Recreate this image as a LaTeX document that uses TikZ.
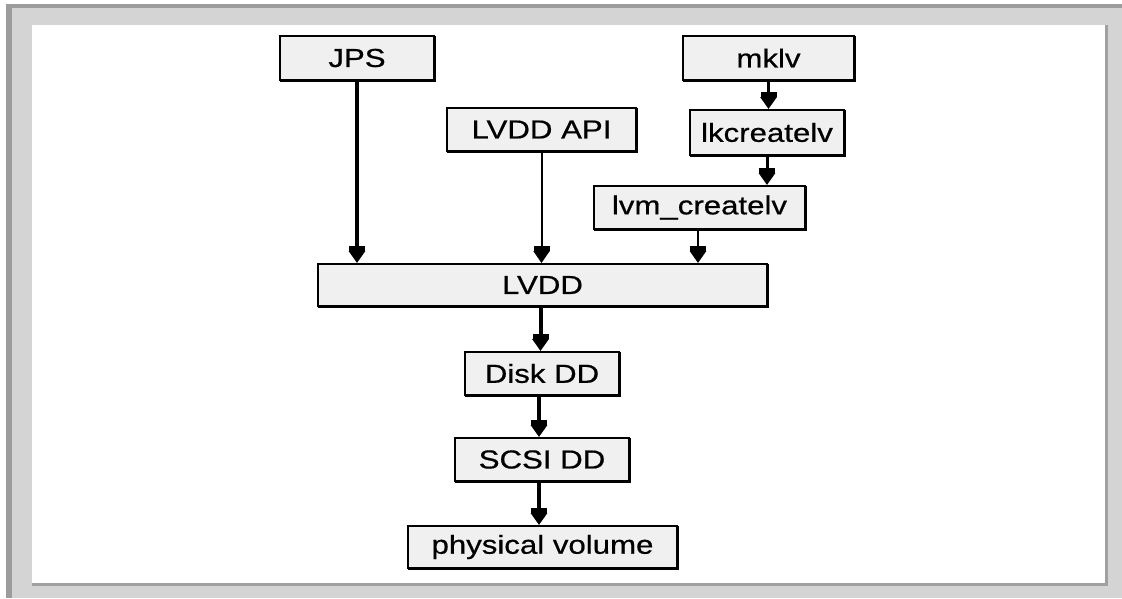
\documentclass[tikz,border=0pt]{standalone}
\usepackage{fontspec}
\setmainfont{Liberation Sans}[FakeStretch=1.2,FakeBold=0.6]
\usetikzlibrary{arrows.meta}

\definecolor{boxfill}{HTML}{F0F0F0}
\definecolor{framegray}{HTML}{D4D4D4}
\definecolor{edgegray}{HTML}{9C9C9C}
\definecolor{innerline}{HTML}{A0A0A0}

\begin{document}
\begin{tikzpicture}[x=1pt,y=-1pt,
  box/.style={draw=black, line width=2pt, fill=boxfill, inner sep=0pt,
    font=\fontsize{26}{30}\selectfont,
    preaction={draw=black, line width=2pt, transform canvas={shift={(1.2pt,-1.2pt)}}}},
  flow/.style={-{Rectangle[width=16pt,length=5pt,sep=0pt]Triangle[width=16pt,length=12pt]}, line width=#1},
  flow/.default=3pt]

\useasboundingbox (0,0) rectangle (1122,598);

% window frame
\fill[framegray] (6,4) rectangle (1122,598);
\fill[edgegray] (6,4) rectangle (12,598);
\fill[edgegray] (6,4) rectangle (1122,8);
\fill[white] (32,25) rectangle (1105,583);
\fill[innerline] (1105,25) rectangle (1108,586);
\fill[innerline] (32,583) rectangle (1108,586);

% boxes
\node[box, minimum width=154pt, minimum height=44pt] (jps)  at (357,58)    {JPS};
\node[box, minimum width=189pt, minimum height=43pt] (api)  at (541.5,129.5) {LVDD API};
\node[box, minimum width=171pt, minimum height=44pt] (mkdv) at (768.5,58)  {mklv};
\node[box, minimum width=154pt, minimum height=45pt] (lk)   at (767,132.5) {lkcreatelv};
\node[box, minimum width=211pt, minimum height=43pt] (lvm)  at (699.5,207.5) {lvm\_createlv};
\node[box, minimum width=449pt, minimum height=42pt] (lvdd) at (542.5,285) {LVDD};
\node[box, minimum width=154pt, minimum height=43pt] (disk) at (542,373.5) {Disk DD};
\node[box, minimum width=174pt, minimum height=43pt] (scsi) at (542,459.5) {SCSI DD};
\node[box, minimum width=269pt, minimum height=42pt] (pv)   at (542.5,547) {physical volume};

% connectors
\draw[flow=4pt]   (jps.south)  -- (jps.south |- lvdd.north);
\draw[flow=2pt]   (api.south)  -- (api.south |- lvdd.north);
\draw[flow=3pt]   (mkdv.south) -- (mkdv.south |- lk.north);
\draw[flow=3pt]   (lk.south)   -- (lk.south |- lvm.north);
\draw[flow=2.5pt] ([xshift=-1.5pt]lvm.south) -- ([xshift=-1.5pt]lvm.south |- lvdd.north);
\draw[flow=4pt]   ([xshift=-2pt]lvdd.south) -- ([xshift=-2pt]lvdd.south |- disk.north);
\draw[flow=4pt]   ([xshift=-3pt]disk.south) -- ([xshift=-3pt]disk.south |- scsi.north);
\draw[flow=4pt]   ([xshift=-3pt]scsi.south) -- ([xshift=-3pt]scsi.south |- pv.north);
\end{tikzpicture}
\end{document}
